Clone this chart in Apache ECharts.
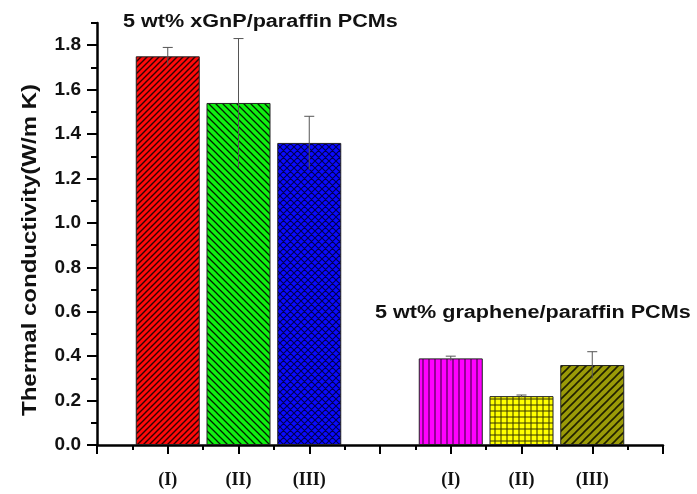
<!DOCTYPE html>
<html>
<head>
<meta charset="utf-8">
<script src="https://cdn.jsdelivr.net/npm/echarts@6/dist/echarts.min.js"></script>
<style>html,body{margin:0;padding:0;background:#fff}#c{width:697px;height:494px}</style>
</head>
<body>
<div id="c"></div>
<script>
// ---- data ----
const categories = ['(I)', '(II)', '(III)', '', '(I)', '(II)', '(III)'];
const positions = [1, 2, 3, 5, 6, 7];
const barLabels = ['(I)', '(II)', '(III)', '(I)', '(II)', '(III)'];
const values = [1.75, 1.54, 1.36, 0.39, 0.22, 0.36];
const errors = [0.04, 0.29, 0.12, 0.01, 0.005, 0.06];
const yTicks = [0, 0.2, 0.4, 0.6, 0.8, 1.0, 1.2, 1.4, 1.6, 1.8];
const groupTitles = ['5 wt% xGnP/paraffin PCMs', '5 wt% graphene/paraffin PCMs'];
const yTitle = 'Thermal conductivity(W/m K)';

// ---- hatch patterns ----
function pattern(bg, ink, kind, s, lw) {
  const c = document.createElement('canvas');
  c.width = s; c.height = s;
  const g = c.getContext('2d');
  g.fillStyle = bg; g.fillRect(0, 0, s, s);
  g.strokeStyle = ink; g.lineWidth = lw;
  g.beginPath();
  const fwd = () => { g.moveTo(-1, s + 1); g.lineTo(s + 1, -1); g.moveTo(-1, 1); g.lineTo(1, -1); g.moveTo(s - 1, s + 1); g.lineTo(s + 1, s - 1); };
  const back = () => { g.moveTo(-1, -1); g.lineTo(s + 1, s + 1); g.moveTo(s - 1, -1); g.lineTo(s + 1, 1); g.moveTo(-1, s - 1); g.lineTo(1, s + 1); };
  if (kind === 'fwd') fwd();
  if (kind === 'back') back();
  if (kind === 'cross') { fwd(); back(); }
  if (kind === 'vert') { g.moveTo(s / 2, 0); g.lineTo(s / 2, s); }
  if (kind === 'grid') { g.moveTo(s / 2, 0); g.lineTo(s / 2, s); g.moveTo(0, s / 2); g.lineTo(s, s / 2); }
  g.stroke();
  return { image: c, repeat: 'repeat' };
}
const fills = [
  pattern('#ff0a0a', '#300000', 'fwd', 6, 1.4),
  pattern('#11f011', '#002000', 'back', 7, 1.3),
  pattern('#0a0aff', '#000050', 'cross', 7, 1.1),
  pattern('#ff00ff', '#500050', 'vert', 6, 1.2),
  pattern('#ffff00', '#333300', 'grid', 6, 1),
  pattern('#9a9a08', '#202000', 'fwd', 8, 1.6)
];

const font = 'Liberation Sans, Arial, sans-serif';
const chart = echarts.init(document.getElementById('c'));
chart.setOption({
  animation: false,
  backgroundColor: '#fff',
  grid: { left: 97, right: 34, top: 23, bottom: 49 },
  xAxis: {
    type: 'value', min: 0, max: 8, interval: 1,
    axisLine: { show: true, onZero: false, lineStyle: { color: '#000', width: 2.5 } },
    axisTick: { show: true, inside: false, length: 9, lineStyle: { color: '#000', width: 2 } },
    minorTick: { show: true, splitNumber: 2, length: 5, lineStyle: { color: '#000', width: 2 } },
    splitLine: { show: false },
    axisLabel: {
      margin: 26, color: '#111', fontFamily: 'Liberation Serif, Times New Roman, serif', fontWeight: 'bold', fontSize: 18,
      formatter: v => (v >= 1 && v <= 7) ? categories[v - 1] : ''
    }
  },
  yAxis: [{
    type: 'value', min: 0, max: 1.9, interval: 0.1,
    axisLine: { show: true, lineStyle: { color: '#000', width: 2.5 } },
    axisTick: { show: true, length: 6, lineStyle: { color: '#000', width: 2 } },
    splitLine: { show: false },
    axisLabel: { show: false }
  }, {
    type: 'value', min: 0, max: 1.9, interval: 0.1, position: 'left', offset: 0,
    axisLine: { show: false },
    axisTick: { show: true, length: 10, customValues: yTicks, lineStyle: { color: '#000', width: 2 } },
    splitLine: { show: false },
    axisLabel: {
      customValues: yTicks, margin: 16, color: '#111', fontFamily: font, fontWeight: 'bold', fontSize: 19,
      formatter: v => v.toFixed(1)
    }
  }],
  series: [{
    type: 'bar', barWidth: 64,
    data: positions.map((p, i) => ({
      value: [p, values[i]], name: barLabels[i],
      itemStyle: { color: fills[i], borderColor: '#222', borderWidth: 1 }
    }))
  }, {
    type: 'custom', z: 5,
    data: positions.map((p, i) => [p, values[i], errors[i]]),
    renderItem: (params, api) => {
      const x = api.value(0), v = api.value(1), e = api.value(2);
      const top = api.coord([x, v + e]);
      const bot = api.coord([x, v - e]);
      const st = { stroke: '#555', lineWidth: 1 };
      return {
        type: 'group', children: [
          { type: 'line', shape: { x1: top[0], y1: top[1], x2: bot[0], y2: bot[1] }, style: st },
          { type: 'line', shape: { x1: top[0] - 5, y1: top[1], x2: top[0] + 5, y2: top[1] }, style: st }
        ]
      };
    }
  }],
  graphic: [
    { type: 'text', x: 123, y: 22, scaleX: 1.2,
      style: { text: groupTitles[0], font: 'bold 18px ' + font, fill: '#111', align: 'left', verticalAlign: 'middle' } },
    { type: 'text', x: 375, y: 313, scaleX: 1.2,
      style: { text: groupTitles[1], font: 'bold 18px ' + font, fill: '#111', align: 'left', verticalAlign: 'middle' } },
    { type: 'text', x: 30, y: 250, rotation: Math.PI / 2, scaleX: 1.2,
      style: { text: yTitle, font: 'bold 20px ' + font, fill: '#111', align: 'center', verticalAlign: 'middle' } }
  ]
});
</script>
</body>
</html>
